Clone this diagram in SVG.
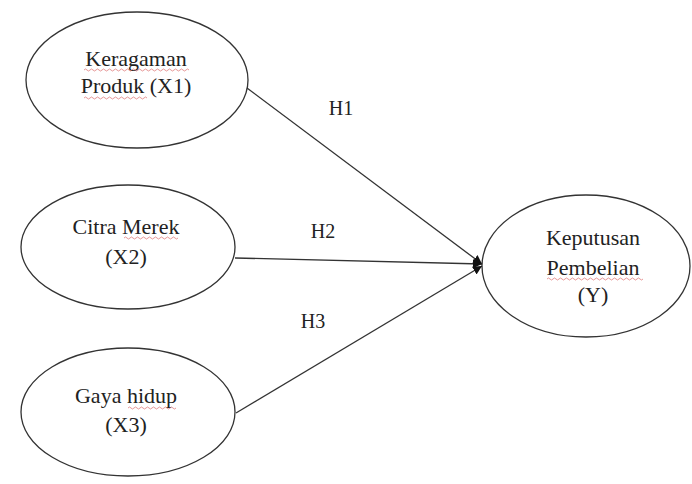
<svg xmlns="http://www.w3.org/2000/svg" width="692" height="484" viewBox="0 0 692 484">
  <style>
    .node ellipse { fill: #ffffff; stroke: #333333; stroke-width: 1.3; }
    .node text, .lbl { font-family: "Liberation Serif", "Times New Roman", serif; font-size: 22px; fill: #222222; text-anchor: middle; }
    .lbl { font-size: 20px; }
    .conn line { stroke: #333333; stroke-width: 1.3; }
    .squig { fill: none; stroke: #d04040; stroke-width: 0.9; opacity: 0.6; }
  </style>
  <defs>
    <marker id="arr" viewBox="0 0 10 10" refX="10" refY="5" markerWidth="9" markerHeight="9" markerUnits="userSpaceOnUse" orient="auto">
      <path d="M0,0 L10,5 L0,10 z" fill="#111111"/>
    </marker>
  </defs>
  <rect width="692" height="484" fill="#ffffff"/>

  <g id="node-x1" class="node">
    <ellipse cx="137" cy="80" rx="111" ry="68"/>
    <text x="136" y="66">Keragaman</text>
    <text x="136" y="93">Produk (X1)</text>
    <path class="squig" d="M84,70 q1.5,-2 3,0 t3,0 t3,0 t3,0 t3,0 t3,0 t3,0 t3,0 t3,0 t3,0 t3,0 t3,0 t3,0 t3,0 t3,0 t3,0 t3,0 t3,0 t3,0 t3,0 t3,0 t3,0 t3,0 t3,0 t3,0 t3,0 t3,0 t3,0 t3,0 t3,0 t3,0 t3,0 t3,0 t3,0 t3,0"/>
    <path class="squig" d="M84,98 q1.5,-2 3,0 t3,0 t3,0 t3,0 t3,0 t3,0 t3,0 t3,0 t3,0 t3,0 t3,0 t3,0 t3,0 t3,0 t3,0 t3,0 t3,0 t3,0 t3,0 t3,0 t3,0"/>
  </g>

  <g id="node-x2" class="node">
    <ellipse cx="128" cy="247" rx="107" ry="62"/>
    <text x="126" y="234">Citra Merek</text>
    <text x="126" y="264">(X2)</text>
    <path class="squig" d="M124,238 q1.5,-2 3,0 t3,0 t3,0 t3,0 t3,0 t3,0 t3,0 t3,0 t3,0 t3,0 t3,0 t3,0 t3,0 t3,0 t3,0 t3,0 t3,0 t3,0"/>
  </g>

  <g id="node-x3" class="node">
    <ellipse cx="128" cy="412" rx="107" ry="64"/>
    <text x="126" y="403">Gaya hidup</text>
    <text x="126" y="432">(X3)</text>
    <path class="squig" d="M128,408 q1.5,-2 3,0 t3,0 t3,0 t3,0 t3,0 t3,0 t3,0 t3,0 t3,0 t3,0 t3,0 t3,0 t3,0 t3,0 t3,0 t3,0"/>
  </g>

  <g id="node-y" class="node">
    <ellipse cx="586" cy="266" rx="104" ry="71"/>
    <text x="593" y="245">Keputusan</text>
    <text x="593" y="275">Pembelian</text>
    <text x="593" y="302">(Y)</text>
    <path class="squig" d="M547,279 q1.5,-2 3,0 t3,0 t3,0 t3,0 t3,0 t3,0 t3,0 t3,0 t3,0 t3,0 t3,0 t3,0 t3,0 t3,0 t3,0 t3,0 t3,0 t3,0 t3,0 t3,0 t3,0 t3,0 t3,0 t3,0 t3,0 t3,0 t3,0 t3,0 t3,0 t3,0 t3,0 t3,0"/>
  </g>

  <g id="connectors" class="conn">
    <line x1="247" y1="88" x2="482" y2="264" marker-end="url(#arr)"/>
    <line x1="235" y1="258" x2="482" y2="264" marker-end="url(#arr)"/>
    <line x1="236" y1="413" x2="482" y2="266" marker-end="url(#arr)"/>
    <text class="lbl" x="341" y="115">H1</text>
    <text class="lbl" x="323" y="238">H2</text>
    <text class="lbl" x="313" y="328">H3</text>
  </g>
</svg>
